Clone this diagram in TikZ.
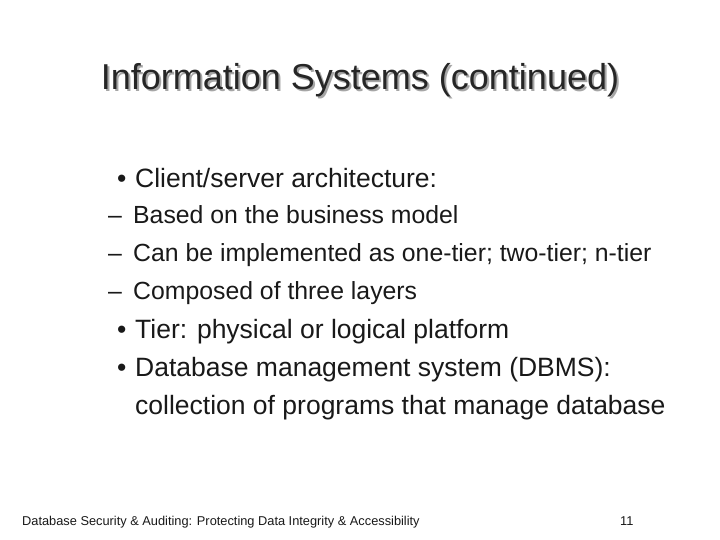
\documentclass[tikz,border=0pt]{standalone}
\usepackage{fontspec}
\setmainfont{Liberation Sans}
\begin{document}
\begin{tikzpicture}[x=1pt,y=-1pt,
  t/.style={anchor=base west,inner sep=0pt,text=black!90},
  big/.style={t,font=\fontsize{26.5}{30}\selectfont},
  sub/.style={t,font=\fontsize{24.8}{28}\selectfont}]
\fill[white] (0,0) rectangle (720,540);
\node[anchor=base,inner sep=0pt,text=black!35,font=\fontsize{36}{40}\selectfont] (tsh) at (362,92) {Information Systems (continued)};
\node[anchor=base,inner sep=0pt,text=black!85,font=\fontsize{36}{40}\selectfont] (title) at (360,90) {Information Systems (continued)};
\node[big] (b1d) at (117,188) {•};
\node[big] (b1) at (135,188) {Client/server architecture:};
\node[sub] (s1d) at (108,223) {–};
\node[sub] (s1) at (133,223) {Based on the business model};
\node[sub] (s2d) at (108,261) {–};
\node[sub] (s2) at (133,261) {Can be implemented as one-tier; two-tier; n-tier};
\node[sub] (s3d) at (108,299) {–};
\node[sub] (s3) at (133,299) {Composed of three layers};
\node[big] (b2d) at (117,338) {•};
\node[big] (b2) at (135,338) {Tier: physical or logical platform};
\node[big] (b3d) at (117,376) {•};
\node[big] (b3) at (135,376) {Database management system (DBMS):};
\node[big] (b3b) at (135,414) {collection of programs that manage database};
\node[t,font=\fontsize{12.8}{14}\selectfont] (foot) at (22,525) {Database Security \& Auditing: Protecting Data Integrity \& Accessibility};
\node[t,font=\fontsize{12.8}{14}\selectfont] (pg) at (620,525) {11};
\end{tikzpicture}
\end{document}
